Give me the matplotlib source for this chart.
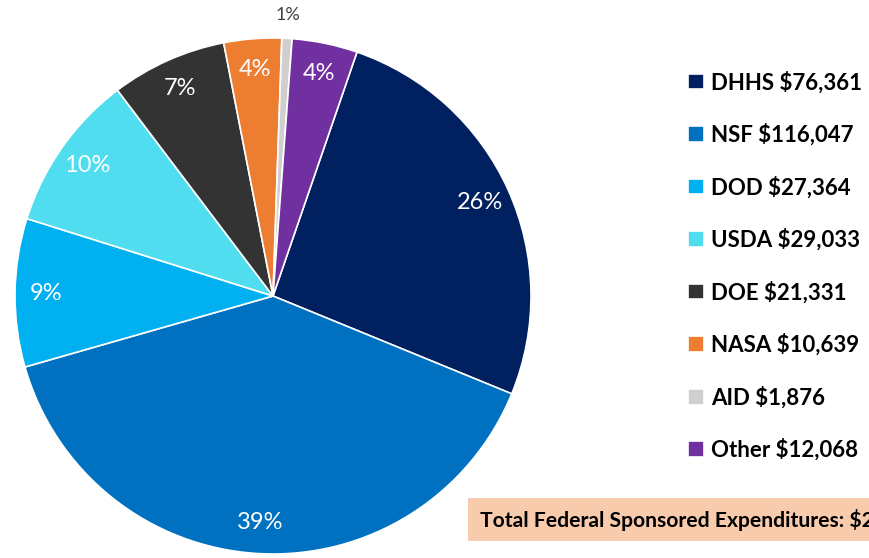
import numpy as np
import matplotlib.pyplot as plt
from matplotlib.patches import Rectangle

agencies = ['DHHS', 'NSF', 'DOD', 'USDA', 'DOE', 'NASA', 'AID', 'Other']
amounts = [76361, 116047, 27364, 29033, 21331, 10639, 1876, 12068]
colors = ['#002060', '#0070C0', '#00B0F0', '#51DDF0', '#333333', '#ED7D31', '#D0CECE', '#7030A0']
total_label = 'Total Federal Sponsored Expenditures: $294,719'

plt.rcParams['font.family'] = ['Lato', 'DejaVu Sans']

fig = plt.figure(figsize=(8.69, 5.58), dpi=100)
# pie centre ~(273, 296) px, radius ~258 px
ax = fig.add_axes([15/869, (558-554)/558, 516/869, 516/558])
wedges, _ = ax.pie(amounts, colors=colors, startangle=71, counterclock=False,
                   radius=1, wedgeprops=dict(edgecolor='white', linewidth=1.2))
ax.set_xlim(-1, 1)
ax.set_ylim(-1, 1)
ax.set_aspect('equal')
ax.axis('off')

total = sum(amounts)
for w, val, name in zip(wedges, amounts, agencies):
	mid = np.deg2rad((w.theta1 + w.theta2) / 2)
	pct = f'{round(100 * val / total):.0f}%'
	if name == 'AID':
		ax.text(1.09*np.cos(mid), 1.09*np.sin(mid), pct, ha='center', va='center',
		        fontsize=13, color='#404040', clip_on=False)
	else:
		r = 0.88
		ax.text(r*np.cos(mid), r*np.sin(mid), pct, ha='center', va='center',
		        fontsize=17, color='white')

labels = [f'{a} ${v:,}' for a, v in zip(agencies, amounts)]
fig.legend(wedges, labels, loc='upper left', bbox_to_anchor=(677/869, 1 - 60/558),
           frameon=False, prop=dict(weight='bold', size=16), handlelength=0.7,
           handleheight=0.7, handletextpad=0.35, labelspacing=1.36, borderpad=0)

# total box, runs off the right edge like the original
fig.add_artist(Rectangle((468/869, 1 - 541/558), 0.6, 43/558, transform=fig.transFigure,
                         facecolor='#F8CBAD', edgecolor='none'))
fig.text(480/869, 1 - 520/558, total_label, ha='left', va='center', fontsize=15.2,
         weight='bold', color='black')

plt.savefig('out.png', dpi=100)
plt.close()
